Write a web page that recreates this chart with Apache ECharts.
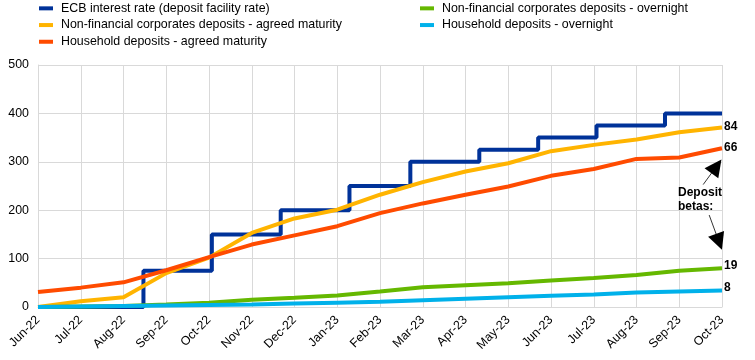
<!DOCTYPE html>
<html>
<head>
<meta charset="utf-8">
<script src="https://cdn.jsdelivr.net/npm/echarts@6/dist/echarts.min.js"></script>
<style>
html,body{margin:0;padding:0;background:#fff;}
#chart{width:755px;height:360px;}
</style>
</head>
<body>
<div id="chart"></div>
<script>
// Month-end tick labels (x axis)
const categories = ['Jun-22','Jul-22','Aug-22','Sep-22','Oct-22','Nov-22','Dec-22','Jan-23','Feb-23','Mar-23','Apr-23','May-23','Jun-23','Jul-23','Aug-23','Sep-23','Oct-23'];

// ECB deposit facility rate (bps), dates at which the rate took effect
const ecbDates = ['2022-06-30','2022-09-14','2022-11-02','2022-12-21','2023-02-08','2023-03-22','2023-05-10','2023-06-21','2023-08-02','2023-09-20','2023-10-31'];
const ecbRates = [0, 75, 150, 200, 250, 300, 325, 350, 375, 400, 400];

// Deposit rate changes (bps), monthly
const nfcAgreed = [0, 12, 20, 70, 102, 153, 183, 201, 232, 258, 280, 297, 322, 335, 346, 361, 371];
const hhAgreed  = [31, 40, 51, 76, 103, 129, 148, 167, 194, 214, 232, 249, 271, 285, 306, 309, 328];
const nfcOvernight = [0, 1, 2, 5, 9, 15, 19, 24, 32, 41, 45, 49, 55, 60, 66, 75, 80];
const hhOvernight  = [0, 1, 2, 3, 4, 5, 7, 9, 11, 14, 17, 20, 23, 26, 30, 32, 34];

// Deposit betas shown at line ends
const betaNfcAgreed = '84';
const betaHhAgreed = '66';
const betaNfcOvernight = '19';
const betaHhOvernight = '8';

const yTicks = [0, 100, 200, 300, 400, 500];

function monthPos(s) {
  const [y, m, d] = s.split('-').map(Number);
  const dim = new Date(y, m, 0).getDate();
  return (y - 2022) * 12 + (m - 1) - 6 + d / dim;
}
const monthly = arr => arr.map((v, i) => [i, v]);
const ecbData = ecbDates.map((d, i) => [monthPos(d), ecbRates[i]]);

const FONT = "'Liberation Sans', Arial, sans-serif";
const names = {
  ecb: 'ECB interest rate (deposit facility rate)',
  nfcA: 'Non-financial corporates deposits - agreed maturity',
  hhA: 'Household deposits - agreed maturity',
  nfcO: 'Non-financial corporates deposits - overnight',
  hhO: 'Household deposits - overnight'
};

function endLabel(text, offY) {
  return {
    show: true, formatter: () => text, distance: 2, offset: [0, offY],
    color: '#000', fontWeight: 'bold', fontSize: 12, fontFamily: FONT
  };
}

const legendCommon = {
  orient: 'vertical', top: 0, padding: 0, itemGap: 0,
  itemWidth: 14, itemHeight: 4, icon: 'rect', selectedMode: false,
  textStyle: { fontSize: 12.4, fontFamily: FONT, color: '#000', lineHeight: 16.7, padding: [0, 0, 0, 3] }
};

const chart = echarts.init(document.getElementById('chart'), null, { renderer: 'canvas' });
chart.setOption({
  animation: false,
  textStyle: { fontFamily: FONT },
  grid: { left: 38, right: 33, top: 65, bottom: 53 },
  legend: [
    Object.assign({ left: 39, data: [names.ecb, names.nfcA, names.hhA] }, legendCommon),
    Object.assign({ left: 420, data: [names.nfcO, names.hhO] }, legendCommon)
  ],
  xAxis: {
    type: 'value', min: 0, max: categories.length - 1, interval: 1,
    axisLine: { show: true, lineStyle: { color: '#d9d9d9' } },
    axisTick: { show: false },
    splitLine: { show: true, lineStyle: { color: '#d9d9d9', width: 1 } },
    axisLabel: {
      rotate: 45, margin: 11, fontSize: 12.4, color: '#000', fontFamily: FONT,
      showMinLabel: true, showMaxLabel: true,
      formatter: v => categories[Math.round(v)] || ''
    }
  },
  yAxis: {
    type: 'value', min: yTicks[0], max: yTicks[yTicks.length - 1], interval: 100,
    axisLine: { show: true, lineStyle: { color: '#d9d9d9' } },
    axisTick: { show: false },
    splitLine: { show: true, lineStyle: { color: '#d9d9d9', width: 1 } },
    axisLabel: { margin: 9, fontSize: 12.4, color: '#000', fontFamily: FONT }
  },
  series: [
    {
      name: names.ecb, type: 'line', step: 'end', data: ecbData,
      showSymbol: false, symbol: 'none', color: '#003299',
      lineStyle: { width: 4, color: '#003299' }
    },
    {
      name: names.nfcA, type: 'line', data: monthly(nfcAgreed),
      showSymbol: false, symbol: 'none', color: '#FFB400',
      lineStyle: { width: 4, color: '#FFB400' },
      endLabel: endLabel(betaNfcAgreed, -1)
    },
    {
      name: names.hhA, type: 'line', data: monthly(hhAgreed),
      showSymbol: false, symbol: 'none', color: '#FF4B00',
      lineStyle: { width: 4, color: '#FF4B00' },
      endLabel: endLabel(betaHhAgreed, -1),
      markPoint: {
        silent: true, symbol: 'circle', symbolSize: 0,
        data: [{ coord: [14.97, 222], value: 0 }],
        label: {
          show: true, position: 'inside', align: 'left', verticalAlign: 'middle',
          formatter: 'Deposit\nbetas:', color: '#000', fontWeight: 'bold',
          fontSize: 12, fontFamily: FONT, lineHeight: 14
        }
      }
    },
    {
      name: names.nfcO, type: 'line', data: monthly(nfcOvernight),
      showSymbol: false, symbol: 'none', color: '#65B800',
      lineStyle: { width: 4, color: '#65B800' },
      endLabel: endLabel(betaNfcOvernight, -3)
    },
    {
      name: names.hhO, type: 'line', data: monthly(hhOvernight),
      showSymbol: false, symbol: 'none', color: '#00B1EA',
      lineStyle: { width: 4, color: '#00B1EA' },
      endLabel: endLabel(betaHhOvernight, -3),
      markLine: {
        silent: true, animation: false,
        symbol: ['none', 'triangle'], symbolSize: 17,
        label: { show: false },
        itemStyle: { color: '#000' },
        lineStyle: { color: '#000', width: 0.8, type: 'solid' },
        emphasis: { disabled: true },
        data: [
          [{ coord: [15.56, 253] }, { coord: [15.87, 290.5] }],
          [{ coord: [15.70, 190] }, { coord: [15.93, 134.7] }]
        ]
      }
    }
  ]
});
</script>
</body>
</html>
